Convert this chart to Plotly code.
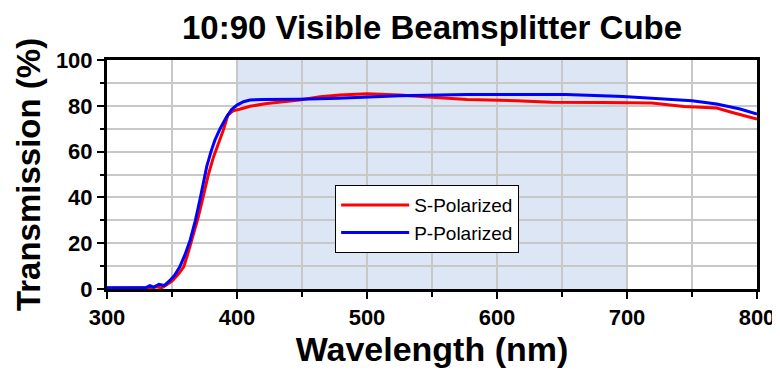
import plotly.graph_objects as go

# Wavelength (nm) and transmission (%)
s_wl = [300, 320, 335, 338, 342, 345, 350, 355, 359, 362, 366, 370, 374, 378, 382, 386, 389.5, 393, 397,
        402, 410, 423, 435, 448, 464, 479, 500, 525, 550, 577, 615, 642, 681, 719, 744, 769, 781, 790, 800]
s_t = [0.4, 0.4, 0.5, 1.0, 0.5, 1.5, 3.5, 6.5, 9.7, 15, 22.8, 31, 40.3, 50, 57.8, 64, 69.4, 76.0, 77.8,
       78.5, 79.8, 81.0, 81.8, 82.5, 84.0, 84.7, 85.3, 84.7, 83.7, 82.8, 82.2, 81.5, 81.4, 81.2, 79.7, 79.0, 77.1, 75.8, 74.2]

p_wl = [300, 320, 330, 333, 336, 340, 344, 348, 352, 356, 360, 364, 368, 371.5, 374, 376.7, 380, 383, 387,
        392, 396, 400, 405, 410, 420, 430, 448, 478, 500, 525, 577, 653, 697, 719, 750, 769, 787, 800]
p_t = [0.5, 0.5, 0.6, 1.5, 0.8, 2.0, 1.5, 3.5, 6.0, 9.7, 15, 21.4, 30, 39, 46, 53.4, 60, 65, 70,
       75.2, 78.5, 80.3, 81.8, 82.5, 82.8, 82.8, 82.9, 83.3, 83.8, 84.4, 84.9, 84.9, 84.1, 83.4, 82.2, 80.8, 78.6, 76.4]

band = [400, 700]
title = "10:90 Visible Beamsplitter Cube"

FONT = "Liberation Sans, Arial"

fig = go.Figure()
fig.add_trace(go.Scatter(x=s_wl, y=s_t, mode="lines", name="S-Polarized",
                         line=dict(color="#ff0000", width=3)))
fig.add_trace(go.Scatter(x=p_wl, y=p_t, mode="lines", name="P-Polarized",
                         line=dict(color="#0000ff", width=3)))

fig.add_shape(type="rect", xref="x", yref="y", x0=band[0], x1=band[1], y0=0, y1=100,
              fillcolor="#dce6f5", line=dict(width=0), layer="below")

axis_common = dict(
    showline=True, linecolor="black", linewidth=3, mirror=True,
    showgrid=True, gridcolor="#c8c8c8", gridwidth=2, zeroline=False,
    ticks="outside", tickcolor="black", tickwidth=2, ticklen=7,
    tickfont=dict(family=FONT, size=22, color="black", weight="bold"),
    automargin=False,
)

fig.update_xaxes(range=[300, 800], dtick=100, tick0=300,
                 title=dict(text="<b>Wavelength (nm)</b>", standoff=0,
                            font=dict(family=FONT, size=34, color="black")),
                 minor=dict(dtick=50, showgrid=True, gridcolor="#c8c8c8", gridwidth=2,
                            ticks="outside", ticklen=5, tickcolor="black", tickwidth=2),
                 **axis_common)
fig.update_yaxes(range=[0, 100], dtick=20, tick0=0,
                 title=dict(text="<b>Transmission (%)</b>", standoff=6,
                            font=dict(family=FONT, size=33, color="black")),
                 minor=dict(dtick=10, showgrid=True, gridcolor="#c8c8c8", gridwidth=2,
                            ticks="outside", ticklen=4, tickcolor="black", tickwidth=2),
                 **axis_common)

fig.update_layout(
    width=772, height=362,
    margin=dict(l=99, r=23, t=52, b=81, autoexpand=False),
    paper_bgcolor="white", plot_bgcolor="white",
    title=dict(text="<b>" + title + "</b>", x=0.5, xanchor="center",
               xref="paper", yref="container", y=0.9475, yanchor="middle",
               font=dict(family=FONT, size=33, color="black"), automargin=False),
    legend=dict(x=0.351, y=0.454, xanchor="left", yanchor="top",
                bgcolor="white", bordercolor="black", borderwidth=1,
                font=dict(family=FONT, size=19, color="black"),
                itemwidth=68, tracegroupgap=0),
    showlegend=True,
)

fig.write_html("out.html")
